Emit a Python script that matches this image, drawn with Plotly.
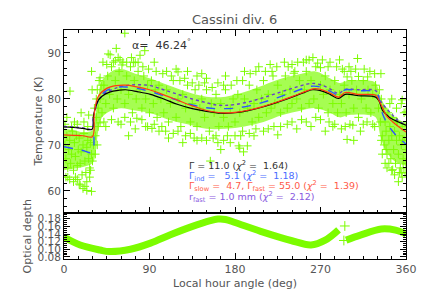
import plotly.graph_objects as go

# ---------------- data ----------------
# Model curves: local hour angle (deg) -> temperature (K)
blk_deg = [0, 10, 20, 29.5, 31, 33, 36, 40, 48, 58, 65, 77, 91, 105, 120, 135, 150, 165, 180, 195, 210, 225, 240, 255, 262, 270, 280, 289, 296, 310, 328, 332, 335, 340, 344, 352, 360]
blk_T = [73.9, 73.8, 73.6, 73.4, 76.3, 78.0, 79.7, 80.6, 81.5, 81.9, 82.0, 81.6, 81.0, 80.0, 78.8, 77.9, 77.3, 76.9, 77.0, 77.5, 78.3, 79.3, 80.4, 81.6, 82.0, 81.8, 81.0, 80.1, 81.0, 80.7, 80.4, 79.4, 77.6, 76.5, 75.8, 75.0, 74.3]

red_deg = [0, 10, 20, 29.9, 32, 36, 45, 55, 65, 75, 90, 105, 120, 135, 150, 165, 180, 195, 210, 225, 240, 255, 262, 270, 280, 289, 296, 310, 328, 332, 336, 340, 349, 360]
red_T = [72.2, 72.1, 72.0, 71.8, 77.0, 80.5, 82.3, 82.9, 83.0, 82.7, 82.0, 80.9, 79.7, 78.5, 77.5, 77.0, 77.1, 77.6, 78.4, 79.4, 80.5, 81.7, 82.2, 82.1, 81.3, 80.4, 81.4, 81.0, 80.8, 79.5, 77.8, 76.2, 74.5, 72.8]

blu_deg = [0, 10, 20, 29.5, 31, 33, 36, 43, 54, 65, 77, 91, 105, 120, 135, 150, 160, 170, 180, 195, 210, 225, 240, 255, 262, 270, 280, 289, 296, 310, 328, 332, 334, 339, 349, 360]
blu_T = [69.6, 69.2, 68.8, 68.4, 76.2, 78.2, 79.8, 81.6, 82.5, 82.6, 82.3, 81.6, 80.7, 79.7, 78.7, 78.1, 77.9, 77.9, 78.0, 78.5, 79.3, 80.3, 81.4, 82.5, 82.8, 82.6, 81.7, 80.9, 82.0, 81.8, 81.5, 79.8, 77.6, 75.1, 72.2, 70.2]

pur_deg = [0, 10, 20, 29.5, 31, 33, 36, 43, 54, 65, 77, 91, 105, 120, 135, 150, 160, 170, 180, 195, 210, 225, 240, 255, 262, 270, 280, 289, 296, 310, 328, 333.6, 344, 352, 360]
pur_T = [74.0, 73.9, 73.7, 73.5, 76.0, 77.8, 79.5, 81.2, 82.3, 82.9, 83.1, 82.9, 82.0, 81.0, 80.0, 79.2, 78.7, 78.6, 78.8, 79.4, 80.3, 81.3, 82.3, 83.2, 83.4, 83.1, 82.2, 81.2, 82.1, 82.0, 81.8, 79.4, 76.9, 75.3, 74.4]

# Dense core of the measurement cloud (lower / upper envelope)
band_deg = [0, 10, 20, 30, 33, 36, 40, 50, 60, 75, 90, 110, 130, 150, 170, 190, 210, 230, 250, 265, 280, 290, 300, 320, 328, 333, 338, 345, 352, 360]
band_lo = [64.5, 64.8, 65.2, 66.0, 68.0, 73.0, 76.0, 77.5, 78.0, 77.5, 77.0, 75.5, 74.5, 73.5, 73.5, 74.0, 75.0, 76.5, 77.5, 78.0, 77.0, 76.0, 76.5, 76.5, 76.0, 72.0, 69.0, 67.0, 66.0, 65.5]
band_hi = [73.5, 73.2, 72.8, 73.2, 76.5, 80.5, 84.0, 86.0, 86.5, 85.5, 84.5, 83.0, 81.5, 80.5, 80.5, 81.5, 83.0, 84.5, 85.5, 86.0, 84.5, 83.5, 84.0, 84.0, 83.5, 80.5, 78.5, 76.5, 75.5, 75.0]

# Individual measurements (deg, K)
scatter_pts = [
    (1, 70), (2, 67), (3, 72), (4, 65), (5, 69), (6, 71), (7, 66), (8, 68), (9, 73), (10, 64.5),
    (11, 70.5), (12, 67.5), (13, 72), (14, 65.5), (15, 69), (16, 71.5), (17, 66), (18, 68.5), (19, 63.5), (20, 70),
    (21, 72.5), (22, 66.5), (23, 64), (24, 69.5), (25, 71), (26, 67), (27, 65), (28, 70.5), (29, 68), (30, 66.5),
    (2, 63), (6, 62.5), (12, 63), (16, 61.5), (20, 60.5), (22, 61), (24, 62), (27, 63), (8, 74), (14, 74.5),
    (25, 74), (6.3, 81.7), (29, 86), (29.6, 82), (3, 76), (18, 77), (26, 76.5), (17, 61.3), (24, 60.1), (29, 59.9),
    (4, 63), (10, 62), (14, 62.5), (28, 64.5), (1, 74.5), (11, 75), (21, 75),
    (31, 70), (32, 74), (32, 78), (33, 72), (34, 80), (34, 76), (35, 82), (36, 78), (37, 84), (38, 80),
    (39, 83), (40, 77), (33, 68), (35, 70), (36, 74), (38, 84.6), (38, 74.8),
    (42, 83), (44, 79), (46, 85), (48, 81), (50, 87), (52, 78), (54, 84), (56, 80), (58, 86), (60, 82),
    (62, 88), (64, 79), (66, 85), (68, 81), (70, 87), (72, 77), (74, 84), (76, 80), (78, 86), (80, 82),
    (82, 78), (84, 85), (86, 80), (88, 83), (90, 77), (92, 84), (94, 79), (96, 82), (98, 76), (100, 83),
    (46.5, 89.8), (57, 89), (64, 94.3), (73, 88), (55, 91), (80, 89.5), (95, 88), (44, 74), (60, 74.5), (75, 73.5),
    (88, 74), (100, 73), (68, 72), (41, 88), (85, 90.5), (54, 88.3), (48.6, 89.6), (61, 87.4), (75, 87.9), (120, 85.9),
    (140, 85), (92.6, 73.6), (76.7, 75.8),
    (45, 87.5), (52, 88), (59, 88.5), (66, 88), (71, 89), (78, 88), (83, 87), (89, 86.5), (97, 86), (104, 85.5),
    (42, 75), (50, 75.5), (57, 75), (64, 76), (70, 75), (82, 75.5), (86, 74), (95, 74.5),
    (102, 80), (105, 77), (108, 82), (110, 75), (112, 79), (115, 84), (118, 76), (120, 80), (123, 74), (125, 81),
    (128, 78), (130, 83), (133, 75), (135, 79), (138, 82), (140, 74), (143, 78), (145, 80), (148, 76), (150, 82),
    (153, 73), (155, 79), (158, 77), (160, 81), (163, 74), (165, 79), (168, 76), (170, 82), (173, 74), (175, 78),
    (178, 80), (180, 75), (183, 81), (185, 77), (188, 73), (190, 80), (193, 78), (195, 83), (198, 75), (200, 79),
    (203, 82), (205, 76), (208, 80), (210, 84), (213, 77), (215, 81), (218, 78), (220, 85),
    (110, 71.5), (125, 70.5), (140, 71), (154, 66.5), (165, 69), (175, 70.5), (184, 69.8), (193, 69.8), (200, 72), (130, 86),
    (150, 84.5), (170, 85), (190, 86), (205, 87), (118, 86.5), (160, 72), (145, 85.5), (189, 68.5), (185, 69.3),
    (108, 86), (113, 85), (122, 84), (127, 84.5), (135, 83.5), (142, 83), (148, 83.5), (156, 82.5), (162, 83.5), (168, 83),
    (176, 83), (182, 84), (188, 84), (196, 85.5), (202, 86), (212, 86), (217, 87.5),
    (103, 74), (107, 73), (115, 72.5), (120, 73), (128, 72), (133, 72.5), (137, 71.5), (145, 71.5), (150, 71), (157, 71.5),
    (162, 70.5), (168, 71), (172, 72), (180, 72), (186, 72), (195, 72.5), (202, 73.5), (210, 73), (215, 73.5),
    (222, 79), (225, 83), (228, 77), (230, 81), (233, 85), (235, 78), (238, 82), (240, 79), (243, 86), (245, 80),
    (248, 84), (250, 78), (253, 82), (255, 86), (258, 79), (260, 84), (263, 80), (265, 87), (268, 78), (270, 83),
    (273, 81), (275, 85), (278, 77), (280, 82), (283, 79), (285, 84), (288, 77), (290, 81),
    (225, 72.2), (228, 74), (245, 73.5), (260, 74), (275, 73), (267, 87.8), (255, 88.5), (240, 87.5), (280, 88), (290, 88.5),
    (232, 88), (285, 74.5), (270, 86.8), (242, 85.6), (219, 86),
    (224, 87), (236, 87), (246, 88), (252, 88), (258, 88.5), (262, 89), (272, 88.5), (278, 87), (287, 87),
    (221, 74), (235, 74.5), (240, 75), (250, 75.5), (255, 75), (265, 76), (270, 75.5), (279, 75), (283, 74),
    (292, 79), (295, 83), (297, 77), (300, 81), (303, 84), (305, 78), (308, 82), (310, 76), (313, 80), (315, 84),
    (318, 78), (320, 82), (323, 77), (325, 81), (328, 83), (298, 71.2), (304, 74.3), (305, 71), (309, 88.8), (295, 86),
    (298, 84.8), (319.6, 84.8), (312, 73), (325, 74.5), (333.6, 85.5), (300, 87), (310, 84.9),
    (293, 86.5), (302, 86), (307, 86.5), (316, 86.5), (322, 86), (327, 85.5),
    (292, 73.5), (296, 74), (301, 74.5), (315, 74.5), (319, 75), (327, 74),
    (331, 78), (332, 82), (333, 75), (334, 80), (335, 72), (336, 78), (337, 70), (338, 75), (339, 73), (340, 68),
    (341, 77), (342, 71), (343, 74), (344, 67), (345, 72), (346, 76), (347, 69), (348, 73), (349, 66), (350, 71),
    (351, 75), (352, 68), (353, 72), (354, 65), (355, 70), (356, 74), (357, 67), (358, 71), (359, 64), (360, 69),
    (352, 62), (356, 63), (345, 64.5), (340, 65), (350, 78), (355, 79), (358, 77), (345, 80), (335, 68), (338, 66),
    (356.5, 71), (360, 77.2), (356, 79.8), (346, 64.6), (355, 63.9),
    (348, 63.5), (353, 64), (357, 65), (342, 66), (339, 69), (334, 71), (360, 66), (350, 75), (343, 79),
]
scatter_deg = [p[0] for p in scatter_pts]
scatter_T = [p[1] for p in scatter_pts]

# Optical depth (two pieces, plus two isolated points)
tau1_deg = [0, 17, 38, 48, 70, 91, 112, 133, 154, 162, 170, 180, 207, 239, 260, 275, 289]
tau1 = [0.132, 0.111, 0.098, 0.094, 0.100, 0.116, 0.138, 0.158, 0.175, 0.179, 0.178, 0.170, 0.147, 0.123, 0.1115, 0.124, 0.151]
tau2_deg = [297, 312, 334, 349, 360]
tau2 = [0.124, 0.137, 0.153, 0.150, 0.140]
tau_iso_deg = [295.6, 294.6]
tau_iso = [0.161, 0.123]

x_ticks = [0, 90, 180, 270, 360]
t_ticks = [60, 70, 80, 90]
tau_ticks = [0.08, 0.10, 0.12, 0.14, 0.16, 0.18]

# ---------------- figure ----------------
GREEN = "#7CFC00"
GRAY = "#555555"
FONT = "DejaVu Sans"

fig = go.Figure()

fig.add_trace(go.Scatter(x=band_deg, y=band_lo, mode="lines", line=dict(width=0, shape="spline"),
                         hoverinfo="skip", showlegend=False))
fig.add_trace(go.Scatter(x=band_deg, y=band_hi, mode="lines", line=dict(width=0, shape="spline"),
                         fill="tonexty", fillcolor="rgba(124,252,0,0.68)", hoverinfo="skip", showlegend=False))
fig.add_trace(go.Scatter(x=scatter_deg, y=scatter_T, mode="markers",
                         marker=dict(symbol="cross-thin", size=6, line=dict(color=GREEN, width=1)),
                         showlegend=False))

fig.add_trace(go.Scatter(x=pur_deg, y=pur_T, mode="lines", line=dict(color="#6a3fc8", width=1.4, dash="dot", shape="spline"), showlegend=False))
fig.add_trace(go.Scatter(x=blu_deg, y=blu_T, mode="lines", line=dict(color="#2a55ff", width=1.4, dash="dash", shape="spline"), showlegend=False))
fig.add_trace(go.Scatter(x=blk_deg, y=blk_T, mode="lines", line=dict(color="black", width=1.2, shape="spline"), showlegend=False))
fig.add_trace(go.Scatter(x=red_deg, y=red_T, mode="lines", line=dict(color="#ff3a10", width=1.2, shape="spline"), showlegend=False))

fig.add_trace(go.Scatter(x=tau1_deg, y=tau1, xaxis="x2", yaxis="y2", mode="lines",
                         line=dict(color=GREEN, width=7, shape="spline"), showlegend=False))
fig.add_trace(go.Scatter(x=tau2_deg, y=tau2, xaxis="x2", yaxis="y2", mode="lines",
                         line=dict(color=GREEN, width=7, shape="spline"), showlegend=False))
fig.add_trace(go.Scatter(x=tau_iso_deg, y=tau_iso, xaxis="x2", yaxis="y2", mode="markers",
                         marker=dict(symbol="cross-thin", size=7, line=dict(color=GREEN, width=1)), showlegend=False))

# page body adds an 8 px offset; screen plot area is x 64..406, y 30..259
OFF = 8
W, H = 427 - OFF, 305 - OFF
L, T = 64 - OFF, 30 - OFF
R = W - (406 - OFF)
B = H - (259 - OFF)
PW, PH = W - L - R, H - T - B
split = (259 - 213) / PH


def px(xs):
    return (xs - 64) / PW


def py(ys):
    return (259 - ys) / PH


axis_common = dict(showline=True, linecolor="black", linewidth=1, ticks="inside", ticklen=6,
                   tickcolor="black", showgrid=False, zeroline=False, automargin=False,
                   tickfont=dict(family=FONT, size=11, color=GRAY))

fig.update_layout(
    width=W, height=H, margin=dict(l=L, r=R, t=T, b=B, autoexpand=False),
    paper_bgcolor="white", plot_bgcolor="white",
    xaxis=dict(domain=[0, 1], anchor="y", range=[0, 360], tickvals=x_ticks, showticklabels=False,
               mirror="ticks", minor=dict(dtick=15, tick0=0, ticks="inside", ticklen=3, tickcolor="black"),
               **axis_common),
    yaxis=dict(domain=[split, 1], anchor="x", range=[55.2, 95], tickvals=t_ticks, mirror="ticks",
               minor=dict(dtick=10 / 6, tick0=60, ticks="inside", ticklen=3, tickcolor="black"),
               **axis_common),
    xaxis2=dict(domain=[0, 1], anchor="y2", range=[0, 360], tickvals=x_ticks, mirror=True,
                minor=dict(dtick=15, tick0=0, ticks="inside", ticklen=3, tickcolor="black"),
                **axis_common),
    yaxis2=dict(domain=[0, split], anchor="x2", range=[0.0745, 0.195], tickvals=tau_ticks,
                ticktext=[f"{v:.2f}" for v in tau_ticks], mirror="ticks",
                minor=dict(dtick=0.005, tick0=0, ticks="inside", ticklen=3, tickcolor="black"),
                **axis_common),
)
fig.update_yaxes(tickfont=dict(size=10.5))

nb = "\u00a0"
LEG = 9.5
ann = [
    dict(text="Cassini div. 6", x=px(234.5), y=py(20), font=dict(size=13, color=GRAY), xanchor="center"),
    dict(text=f"α={nb}{nb}46.24<sup>°</sup>", x=px(130), y=py(44), font=dict(size=11, color="#333333"), xanchor="left"),
    dict(text=f"Γ = 11.0 (<i>χ</i><sup>2</sup> ={nb}{nb}1.64)", x=px(187), y=py(165),
         font=dict(size=LEG, color="#333333"), xanchor="left"),
    dict(text=f"Γ<sub>ind</sub> ={nb}{nb}{nb}5.1 (<i>χ</i><sup>2</sup> ={nb}{nb}1.18)", x=px(187), y=py(175.5),
         font=dict(size=LEG, color="#4a6cff"), xanchor="left"),
    dict(text=f"Γ<sub>slow</sub> ={nb}{nb}4.7, Γ<sub>fast</sub> = 55.0 (<i>χ</i><sup>2</sup> ={nb}{nb}1.39)",
         x=px(187), y=py(186), font=dict(size=LEG, color="#ff5a48"), xanchor="left"),
    dict(text=f"r<sub>fast</sub> = 1.0 mm (<i>χ</i><sup>2</sup> ={nb}{nb}2.12)", x=px(187), y=py(196.5),
         font=dict(size=LEG, color="#8a5ae0"), xanchor="left"),
    dict(text="Temperature (K)", x=px(38), y=py(121.5), textangle=-90, font=dict(size=11, color=GRAY)),
    dict(text="Optical depth", x=px(27), y=py(236.5), textangle=-90, font=dict(size=11, color=GRAY)),
    dict(text="Local hour angle (deg)", x=px(234.5), y=py(283), font=dict(size=11, color=GRAY)),
]
for a in ann:
    a.update(xref="paper", yref="paper", showarrow=False, yanchor="middle")
    a.setdefault("xanchor", "center")
    a["font"]["family"] = FONT
fig.update_layout(annotations=ann)

fig.write_html("out.html")
